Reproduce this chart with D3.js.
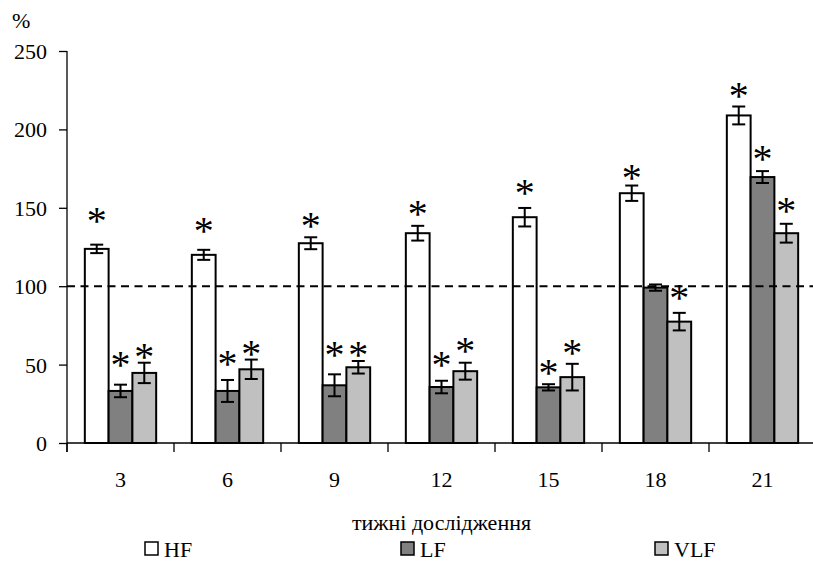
<!DOCTYPE html>
<html>
<head>
<meta charset="utf-8">
<script src="https://cdn.jsdelivr.net/npm/d3@7"></script>
<style>
  body { margin: 0; background: #fff; }
  svg text { font-family: 'Liberation Serif' !important; font-weight: normal; }
</style>
</head>
<body>
<div id="chart"></div>
<script>
// data (%)
const weeks = ["3", "6", "9", "12", "15", "18", "21"];
const seriesNames = ["HF", "LF", "VLF"];
const seriesFills = ["#ffffff", "#808080", "#c0c0c0"];

const hfValues  = [123.8, 120, 127.4, 133.8, 144, 159.3, 208.9];
const hfErrors  = [2.7, 3.2, 3.8, 4.7, 5.9, 4.9, 5.7];
const lfValues  = [33.2, 33.2, 36.8, 35.7, 35.5, 99.1, 169.6];
const lfErrors  = [4, 7, 7, 4, 2, 2, 3.8];
const vlfValues = [44.7, 47, 48.3, 45.8, 42, 77.4, 133.8];
const vlfErrors = [6.5, 6.2, 4, 5.4, 8.5, 5.6, 6];

// level (%) where each significance asterisk sits, null = no asterisk
const hfStars  = [144.4, 138, 141.2, 149, 162.2, 172.1, 224.2];
const lfStars  = [52.3, 53, 59.3, 52.5, 47.7, null, 183.8];
const vlfStars = [57.9, 59.8, 59.3, 61.5, 60, 95.5, 150.8];

const yTicks = [0, 50, 100, 150, 200, 250];
const referenceLevel = 100;

const FONT = "'Liberation Serif'";
const W = 813, H = 573;
const svg = d3.select("#chart").append("svg")
  .attr("width", W)
  .attr("height", H);

const x = d3.scaleBand().domain(weeks).range([67, 816]);
const y = d3.scaleLinear().domain([0, 250]).range([443, 51]);

const barW = x.bandwidth() / 4.5;
const sub = d3.scaleBand().domain(seriesNames).range([-1.5 * barW, 1.5 * barW]);

const series = [
  { name: "HF", values: hfValues, errors: hfErrors, stars: hfStars },
  { name: "LF", values: lfValues, errors: lfErrors, stars: lfStars },
  { name: "VLF", values: vlfValues, errors: vlfErrors, stars: vlfStars }
];

let rows = [];
series.forEach(function(s, si) {
  weeks.forEach(function(w, i) {
    rows.push({ week: w, name: s.name, fill: seriesFills[si],
      v: s.values[i], e: s.errors[i], star: s.stars[i] });
  });
});

function cx(d) { return x(d.week) + x.bandwidth() / 2 + sub(d.name) + barW / 2; }

// bars
svg.append("g").selectAll("rect")
  .data(rows)
  .enter()
  .append("rect")
  .attr("x", d => x(d.week) + x.bandwidth() / 2 + sub(d.name))
  .attr("y", d => y(d.v))
  .attr("width", barW)
  .attr("height", d => y(0) - y(d.v))
  .attr("fill", d => d.fill)
  .attr("stroke", "#000")
  .attr("stroke-width", 2);

// reference line at 100 %
svg.append("line")
  .attr("x1", x.range()[0]).attr("x2", x.range()[1])
  .attr("y1", y(referenceLevel)).attr("y2", y(referenceLevel))
  .attr("stroke", "#000")
  .attr("stroke-width", 2)
  .attr("stroke-dasharray", "8,5.5");

// error bars
const err = svg.append("g").attr("stroke", "#000").attr("stroke-width", 2);
rows.forEach(function(d) {
  const c = cx(d), cap = 6.5;
  err.append("line").attr("x1", c).attr("x2", c).attr("y1", y(d.v + d.e)).attr("y2", y(d.v - d.e));
  err.append("line").attr("x1", c - cap).attr("x2", c + cap).attr("y1", y(d.v + d.e)).attr("y2", y(d.v + d.e));
  err.append("line").attr("x1", c - cap).attr("x2", c + cap).attr("y1", y(d.v - d.e)).attr("y2", y(d.v - d.e));
});

// asterisks
svg.append("g").selectAll("text")
  .data(rows.filter(d => d.star != null))
  .enter()
  .append("text")
  .attr("x", cx)
  .attr("y", d => y(d.star) + 17.5)
  .attr("text-anchor", "middle")
  .style("font-family", FONT)
  .style("font-size", "40px")
  .text("*");

// y axis
const yAxis = svg.append("g")
  .attr("transform", "translate(67,0)")
  .call(d3.axisLeft(y).tickValues(yTicks).tickSize(8).tickPadding(12).tickSizeOuter(0));
yAxis.attr("font-family", null).attr("font-size", null);
yAxis.select(".domain").remove();
yAxis.selectAll("line").attr("stroke", "#000").attr("stroke-width", 1.3);
yAxis.selectAll("text").attr("fill", "#000")
  .style("font-family", FONT).style("font-size", "22px").attr("dy", "0.34em");
svg.append("line")
  .attr("x1", 67).attr("x2", 67).attr("y1", y(250)).attr("y2", y(0) + 9)
  .attr("stroke", "#000").attr("stroke-width", 1.3);

// x axis
svg.append("line")
  .attr("x1", 67).attr("x2", 816).attr("y1", y(0)).attr("y2", y(0))
  .attr("stroke", "#000").attr("stroke-width", 1.3);
svg.append("g").selectAll("line")
  .data(weeks)
  .enter()
  .append("line")
  .attr("x1", d => x(d)).attr("x2", d => x(d))
  .attr("y1", y(0)).attr("y2", y(0) + 9)
  .attr("stroke", "#000").attr("stroke-width", 1.3);
const xAxis = svg.append("g")
  .attr("transform", "translate(0," + y(0) + ")")
  .call(d3.axisBottom(x).tickSize(0).tickPadding(28));
xAxis.attr("font-family", null).attr("font-size", null);
xAxis.select(".domain").remove();
xAxis.selectAll("text").attr("fill", "#000")
  .style("font-family", FONT).style("font-size", "22px");

// labels
svg.append("text").attr("x", 12).attr("y", 28)
  .style("font-family", FONT).style("font-size", "22px").text("%");
svg.append("text")
  .attr("x", (x.range()[0] + x.range()[1]) / 2)
  .attr("y", 530)
  .attr("text-anchor", "middle")
  .style("font-family", FONT)
  .style("font-size", "22px")
  .text("тижні дослідження");

// legend
const legendX = [145, 401, 655];
const legend = svg.append("g").selectAll("g")
  .data(seriesNames)
  .enter()
  .append("g")
  .attr("transform", (d, i) => "translate(" + legendX[i] + ",0)");
legend.append("rect")
  .attr("x", 0).attr("y", 542).attr("width", 13).attr("height", 13)
  .attr("fill", (d, i) => seriesFills[i])
  .attr("stroke", "#000").attr("stroke-width", 1.5);
legend.append("text")
  .attr("x", 19).attr("y", 557)
  .style("font-family", FONT)
  .style("font-size", "22px")
  .text(d => d);
</script>
</body>
</html>
